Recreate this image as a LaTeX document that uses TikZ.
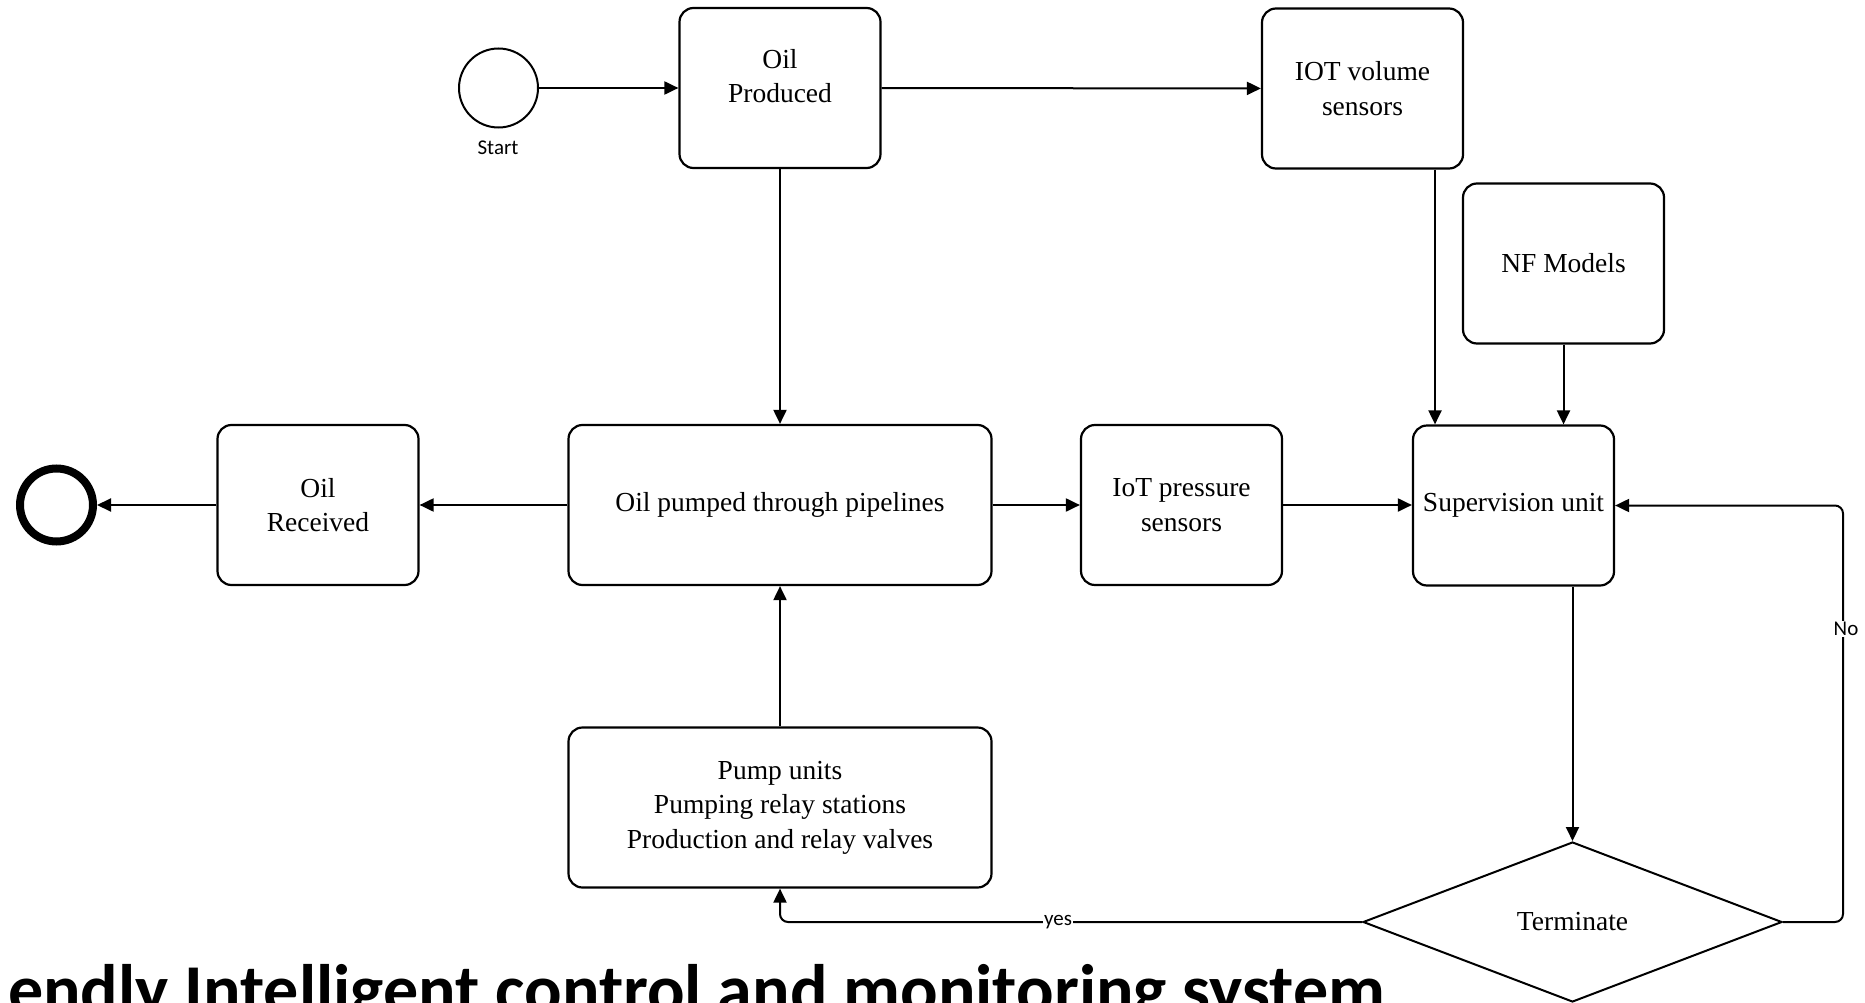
\documentclass[tikz,border=0pt]{standalone}
\usepackage{fontspec}
\setmainfont{Liberation Serif}
\newfontfamily\labelfont{Carlito}
\usetikzlibrary{shapes.geometric,arrows.meta,calc}
\begin{document}
\begin{tikzpicture}[x=1pt,y=-1pt,
  box/.style={draw, rounded corners=14pt, line width=2.2pt, minimum width=201pt, minimum height=160pt, inner sep=0pt, align=center, font=\fontsize{27.5}{34.5}\selectfont},
  wbox/.style={box, minimum width=423pt},
  plain/.style={inner sep=0pt, align=center, font=\fontsize{27.5}{34.5}\selectfont},
  arr/.style={line width=2pt, -{Triangle[length=14pt,width=13pt]}},
  lbl/.style={font=\labelfont\fontsize{21}{24}\selectfont, fill=white, inner sep=1pt},
]
\useasboundingbox (0,0) rectangle (1865,1003);

% events
\node[circle, draw, line width=2pt, minimum size=79pt, inner sep=0pt] (start) at (498.5,88) {};
\node[font=\labelfont\fontsize{21}{24}\selectfont, inner sep=0pt] (startlbl) at (498,148) {Start};
\node[circle, draw, line width=8pt, minimum size=73pt, inner sep=0pt] (end) at (56.5,505) {};

% boxes
\node[box] (oilprod) at (780,88) {};
\node[plain] (oilprodtxt) at (780,76) {Oil\\Produced};
\node[box] (iotv) at (1362.5,88.5) {IOT volume\\sensors};
\node[box] (nf) at (1563.5,263.5) {NF Models};
\node[box] (sup) at (1513.5,505.5) {Supervision unit};
\node[box] (iotp) at (1181.5,505) {IoT pressure\\sensors};
\node[wbox] (pumped) at (780,505) {Oil pumped through pipelines};
\node[box] (recv) at (318,505) {Oil\\Received};
\node[wbox] (pump) at (780,807.5) {Pump units\\Pumping relay stations\\Production and relay valves};

% decision
\node[diamond, draw, line width=2pt, minimum width=419pt, minimum height=160pt, inner sep=0pt, shape aspect=2.6, font=\fontsize{27.5}{34.5}\selectfont] (term) at (1572.5,922) {Terminate};

\coordinate (noX) at (1843,0);

% connectors
\draw[arr] (start) -- (oilprod);
\draw[arr] (oilprod) -- (iotv);
\draw[arr] (oilprod.south) -- (pumped.north);
\draw[arr] ([xshift=72.5pt]iotv.south) -- ([xshift=-78.5pt]sup.north);
\draw[arr] (nf.south) -- (nf.south |- sup.north);
\draw[arr] (iotp.east) -- (iotp.east -| sup.west);
\draw[arr] (pumped.east) -- (pumped.east -| iotp.west);
\draw[arr] (pumped.west) -- (pumped.west -| recv.east);
\draw[arr] (recv.west) -- (recv.west -| end.east);
\draw[arr] (pump.north) -- (pumped.south);
\draw[arr] (term.north |- sup.south) -- (term.north);
\draw[arr, rounded corners=8pt] (term.east) -- (term.east -| noX) -- (sup.east -| noX) -- (sup.east);
\draw[arr, rounded corners=8pt] (term.west) -- (term.west -| pump.south) -- (pump.south);
\node[lbl] (nolbl) at (1846,629) {No};
\node[lbl] (yeslbl) at (1058,922) {yes};

% title (cut by the picture's lower edge, as in the reference)
\begin{scope}
\clip (0,0) rectangle (1865,1003);
\node[anchor=base west, inner sep=0pt, font=\labelfont\bfseries\fontsize{70}{80}\selectfont] (title) at (8,1013) {endly Intelligent control and monitoring system};
\end{scope}
\end{tikzpicture}
\end{document}
